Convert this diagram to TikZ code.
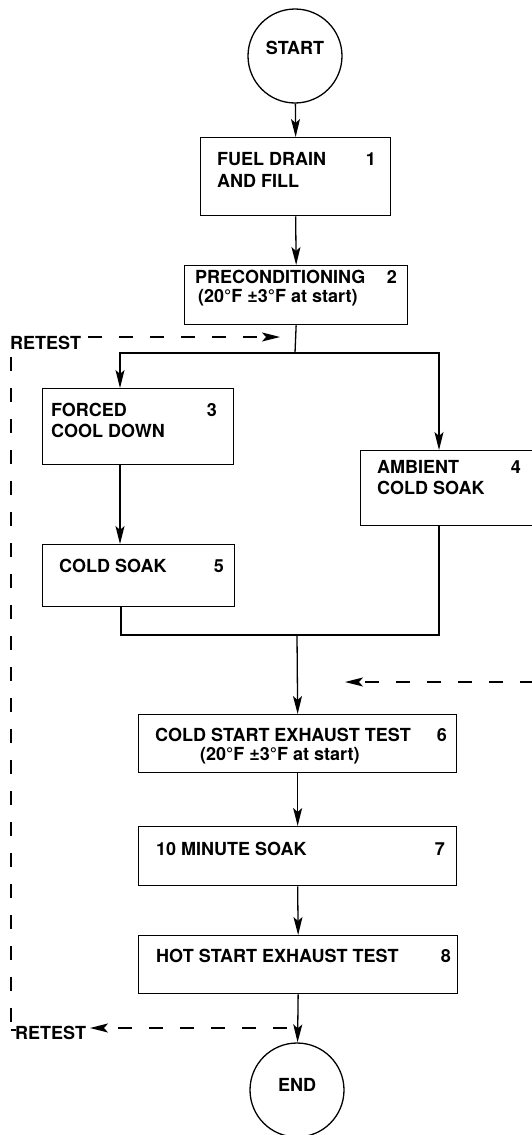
\documentclass[tikz,border=0pt]{standalone}
\usepackage{fontspec}
\setmainfont{TeX Gyre Heros}
\usetikzlibrary{arrows.meta}
\begin{document}
\begin{tikzpicture}[x=1pt,y=-1pt,
  lw/.style={line width=1.3pt},
  stepbox/.style={draw, lw, rectangle, anchor=north west, inner sep=0pt},
  txt/.style={font=\fontsize{18}{21}\selectfont\bfseries, inner sep=0pt, anchor=base west},
  num/.style={txt, anchor=base east},
  term/.style={draw, circle, lw, minimum size=94pt, inner sep=0pt, font=\fontsize{18}{21}\selectfont\bfseries, text height=12.9pt},
  arr/.style={lw, -{Stealth[length=18pt,width=9pt,inset=4pt]}},
  dsh/.style={lw, dash pattern=on 14pt off 17pt},
  darr/.style={arr, dash pattern=on 14pt off 17pt}]
\useasboundingbox (0,0) rectangle (532,1135);

% terminals
\node[term, text depth=16pt] (start) at (295,56) {START};
\node[term, text depth=10pt] (end) at (297,1090) {END};

% boxes
\node[stepbox, minimum width=190pt, minimum height=78pt] (b1) at (200,137) {};
\node[stepbox, minimum width=223pt, minimum height=59pt] (b2) at (184,265) {};
\node[stepbox, minimum width=191pt, minimum height=76pt] (b3) at (42,388) {};
\node[stepbox, minimum width=176pt, minimum height=75pt] (b4) at (360,450) {};
\node[stepbox, minimum width=192pt, minimum height=62pt] (b5) at (42,544) {};
\node[stepbox, minimum width=318pt, minimum height=58pt] (b6) at (138,714) {};
\node[stepbox, minimum width=318pt, minimum height=59pt] (b7) at (138,826) {};
\node[stepbox, minimum width=319pt, minimum height=58pt] (b8) at (138,935) {};

% texts
\node[txt] (t1a) at (217,165) {FUEL DRAIN};
\node[txt] (t1b) at (217,187) {AND FILL};
\node[num] (n1) at (376,165) {1};
\node[txt] (t2a) at (195,283.5) {PRECONDITIONING};
\node[txt] (t2b) at (198,302) {(20°F ±3°F at start)};
\node[num] (n2) at (397,283.5) {2};
\node[txt] (t3a) at (51,416) {FORCED};
\node[txt] (t3b) at (51,437) {COOL DOWN};
\node[num] (n3) at (217,416) {3};
\node[txt] (t4a) at (377,473) {AMBIENT};
\node[txt] (t4b) at (377,494) {COLD SOAK};
\node[num] (n4) at (521,473) {4};
\node[txt] (t5a) at (59,572) {COLD SOAK};
\node[num] (n5) at (224,572) {5};
\node[txt] (t6a) at (155,741) {COLD START EXHAUST TEST};
\node[txt] (t6b) at (200,760) {(20°F ±3°F at start)};
\node[num] (n6) at (447,741) {6};
\node[txt] (t7a) at (156,855) {10 MINUTE SOAK};
\node[num] (n7) at (445,855) {7};
\node[txt] (t8a) at (156,962) {HOT START EXHAUST TEST};
\node[num] (n8) at (451,962) {8};
\node[txt] (rt1) at (10,349) {RETEST};
\node[txt] (rt2) at (15,1039) {RETEST};

% junctions
\coordinate (j1) at (295,353);
\coordinate (j2) at (297,635);

% solid connectors
\draw[arr] (start) -- (b1.north);
\draw[arr] (b1.south) -- (b2.north);
\draw[lw] (b2.south) -- (j1);
\draw[arr] (j1) -| ([xshift=78pt]b3.north west);
\draw[arr] (j1) -| ([xshift=79pt]b4.north west);
\draw[arr] ([xshift=78pt]b3.south west) -- ([xshift=78pt]b5.north west);
\draw[lw] ([xshift=79pt]b5.south west) |- (j2) -| ([xshift=79pt]b4.south west);
\draw[arr] (j2) -- (b6.north);
\draw[arr] (b6.south) -- (b7.north);
\draw[arr] (b7.south) -- (b8.north);
\draw[arr] (b8.south) -- (end);

% dashed retest paths
\coordinate (r1a) at (88,337);
\coordinate (r1b) at (280,337);
\draw[darr] (r1a) -- (r1b);
\coordinate (v1) at (11,357);
\coordinate (v2) at (11,1030);
\draw[dsh] (v1) -- (v2);
\draw[lw] (v2) -- ++(5,0);
\coordinate (r2a) at (287,1028);
\coordinate (r2b) at (90,1028);
\draw[darr] (r2a) -- (r2b);
\coordinate (r3a) at (534,682);
\coordinate (r3b) at (345,682);
\draw[darr] (r3a) -- (r3b);
\end{tikzpicture}
\end{document}
